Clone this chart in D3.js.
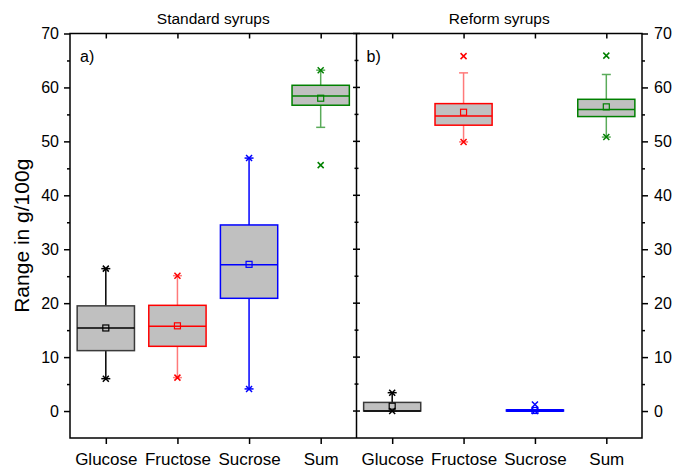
<!DOCTYPE html>
<html>
<head>
<meta charset="utf-8">
<script src="https://cdn.jsdelivr.net/npm/d3@7"></script>
<style>
  body { margin: 0; background: #fff; }
  svg { font-family: "Liberation Sans", Arial, sans-serif; }
</style>
</head>
<body>
<svg id="chart" width="681" height="468"></svg>
<script>
// data
const categories = ["Glucose", "Fructose", "Sucrose", "Sum"];
const panelTitles = ["Standard syrups", "Reform syrups"];
const panelLabels = ["a)", "b)"];
const yTicks = [0, 10, 20, 30, 40, 50, 60, 70];

// standard syrups
const stdQ1 = [11.2, 12.0, 20.9, 56.7];
const stdMedian = [15.4, 15.7, 27.1, 58.4];
const stdQ3 = [19.5, 19.6, 34.5, 60.4];
const stdMean = [15.4, 15.8, 27.2, 58.0];
const stdWhiskLo = [6.0, 6.2, 4.1, 52.6];
const stdWhiskHi = [26.4, 25.1, 46.9, 63.2];
const stdMin = [6.0, 6.2, 4.1, 45.6];
const stdMax = [26.4, 25.1, 46.9, 63.2];

// reform syrups
const refQ1 = [0.0, 53.0, 0.0, 54.6];
const refMedian = [0.0, 54.7, 0.1, 55.9];
const refQ3 = [1.6, 57.0, 0.2, 57.8];
const refMean = [0.9, 55.4, 0.1, 56.4];
const refWhiskLo = [0.0, 49.9, 0.0, 50.8];
const refWhiskHi = [3.4, 62.7, 0.2, 62.4];
const refMin = [0.0, 49.9, 0.0, 50.8];
const refMax = [3.4, 65.8, 1.2, 65.9];

const boxColor = ["#000000", "#ff0000", "#0000ff", "#008000"];
const whiskColor = ["#000000", "#ff7a7a", "#0000ff", "#5aab5a"];

const svg = d3.select("#chart");
const x0 = 70, xm = 356.5, x1 = 642;
const yTop = 33.5, yBot = 438;

const y = d3.scaleLinear().domain([-5, 70]).range([yBot, yTop]);

const panels = [
  { range: [x0, xm], q1: stdQ1, med: stdMedian, q3: stdQ3, mean: stdMean, wlo: stdWhiskLo, whi: stdWhiskHi, mn: stdMin, mx: stdMax },
  { range: [xm, x1], q1: refQ1, med: refMedian, q3: refQ3, mean: refMean, wlo: refWhiskLo, whi: refWhiskHi, mn: refMin, mx: refMax }
];

const minor = [5, 15, 25, 35, 45, 55, 65];

panels.forEach(function(p, pi) {
  const x = d3.scalePoint().domain(categories).range(p.range).padding(0.5);
  const bw = x.step() * 0.8;
  const g = svg.append("g");

  // title + panel letter
  svg.append("text").attr("x", (p.range[0] + p.range[1]) / 2).attr("y", 24)
    .attr("text-anchor", "middle").attr("font-size", 15.5).text(panelTitles[pi]);
  svg.append("text").attr("x", p.range[0] + 10).attr("y", 62)
    .attr("font-size", 16).text(panelLabels[pi]);

  // bottom axis
  const bx = svg.append("g").attr("transform", "translate(0," + yBot + ")")
    .call(d3.axisBottom(x).tickSize(6).tickSizeOuter(0).tickPadding(9));
  bx.select(".domain").remove();
  bx.selectAll("line").attr("stroke-width", 1.5);
  bx.selectAll("text").attr("font-size", 17).attr("fill", "#000");

  // top ticks pointing in
  const tx = svg.append("g").attr("transform", "translate(0," + yTop + ")")
    .call(d3.axisBottom(x).tickSize(5).tickFormat(""));
  tx.select(".domain").remove();
  tx.selectAll("line").attr("stroke-width", 1.5);

  categories.forEach(function(c, i) {
    const cx = x(c);
    const col = boxColor[i], wcol = whiskColor[i];
    // whiskers
    g.append("line").attr("x1", cx).attr("x2", cx)
      .attr("y1", y(p.q3[i])).attr("y2", y(p.whi[i]))
      .attr("stroke", wcol).attr("stroke-width", 1.5);
    g.append("line").attr("x1", cx).attr("x2", cx)
      .attr("y1", y(p.q1[i])).attr("y2", y(p.wlo[i]))
      .attr("stroke", wcol).attr("stroke-width", 1.5);
    [p.wlo[i], p.whi[i]].forEach(function(v) {
      g.append("line").attr("x1", cx - 4.5).attr("x2", cx + 4.5)
        .attr("y1", y(v)).attr("y2", y(v))
        .attr("stroke", wcol).attr("stroke-width", 1.5);
    });
    // box
    const h = Math.max(y(p.q1[i]) - y(p.q3[i]), 0.01);
    g.append("rect").attr("x", cx - bw / 2).attr("y", y(p.q3[i]))
      .attr("width", bw).attr("height", h)
      .attr("fill", "#c0c0c0")
      .attr("stroke", i === 0 ? "#3a3a3a" : col)
      .attr("stroke-width", 1.5);
    g.append("line").attr("x1", cx - bw / 2).attr("x2", cx + bw / 2)
      .attr("y1", y(p.med[i])).attr("y2", y(p.med[i]))
      .attr("stroke", col).attr("stroke-width", (pi === 1 && i === 2) ? 3 : 1.5);
    // mean
    g.append("rect").attr("x", cx - 3).attr("y", y(p.mean[i]) - 3)
      .attr("width", 6).attr("height", 6)
      .attr("fill", "none").attr("stroke", col).attr("stroke-width", 1.2);
    // min / max crosses
    [p.mn[i], p.mx[i]].forEach(function(v) {
      const yy = y(v);
      g.append("path")
        .attr("d", "M" + (cx - 3) + "," + (yy - 3) + "L" + (cx + 3) + "," + (yy + 3) +
          "M" + (cx - 3) + "," + (yy + 3) + "L" + (cx + 3) + "," + (yy - 3))
        .attr("stroke", col).attr("stroke-width", 1.5).attr("fill", "none");
    });
  });
});

// left axis
const la = svg.append("g").attr("transform", "translate(" + x0 + ",0)")
  .call(d3.axisLeft(y).tickValues(yTicks).tickSize(6).tickPadding(5));
la.select(".domain").remove();
la.selectAll("line").attr("stroke-width", 1.5);
la.selectAll("text").attr("font-size", 16).attr("fill", "#000");
svg.append("g").attr("transform", "translate(" + x0 + ",0)")
  .call(d3.axisLeft(y).tickValues(minor).tickSize(3).tickFormat(""))
  .call(function(s) { s.select(".domain").remove(); s.selectAll("line").attr("stroke-width", 1.5); });

// right axis
const ra = svg.append("g").attr("transform", "translate(" + x1 + ",0)")
  .call(d3.axisRight(y).tickValues(yTicks).tickSize(6).tickPadding(6));
ra.select(".domain").remove();
ra.selectAll("line").attr("stroke-width", 1.5);
ra.selectAll("text").attr("font-size", 16).attr("fill", "#000");
svg.append("g").attr("transform", "translate(" + x1 + ",0)")
  .call(d3.axisRight(y).tickValues(minor).tickSize(3).tickFormat(""))
  .call(function(s) { s.select(".domain").remove(); s.selectAll("line").attr("stroke-width", 1.5); });

// middle divider ticks on both sides
const mid = svg.append("g");
mid.selectAll(".maj").data(yTicks).join("line")
  .attr("x1", xm - 3.5).attr("x2", xm + 3.5)
  .attr("y1", d => y(d)).attr("y2", d => y(d))
  .attr("stroke", "#000").attr("stroke-width", 1.5);
mid.selectAll(".min").data(minor).join("line")
  .attr("x1", xm - 2).attr("x2", xm + 2)
  .attr("y1", d => y(d)).attr("y2", d => y(d))
  .attr("stroke", "#000").attr("stroke-width", 1.5);

// frame
svg.append("rect").attr("x", x0).attr("y", yTop)
  .attr("width", x1 - x0).attr("height", yBot - yTop)
  .attr("fill", "none").attr("stroke", "#000").attr("stroke-width", 1.5);
svg.append("line").attr("x1", xm).attr("x2", xm).attr("y1", yTop).attr("y2", yBot)
  .attr("stroke", "#000").attr("stroke-width", 1.5);

// y title
svg.append("text")
  .attr("transform", "translate(29," + ((yTop + yBot) / 2) + ") rotate(-90)")
  .attr("text-anchor", "middle").attr("font-size", 21)
  .text("Range in g/100g");
</script>
</body>
</html>
